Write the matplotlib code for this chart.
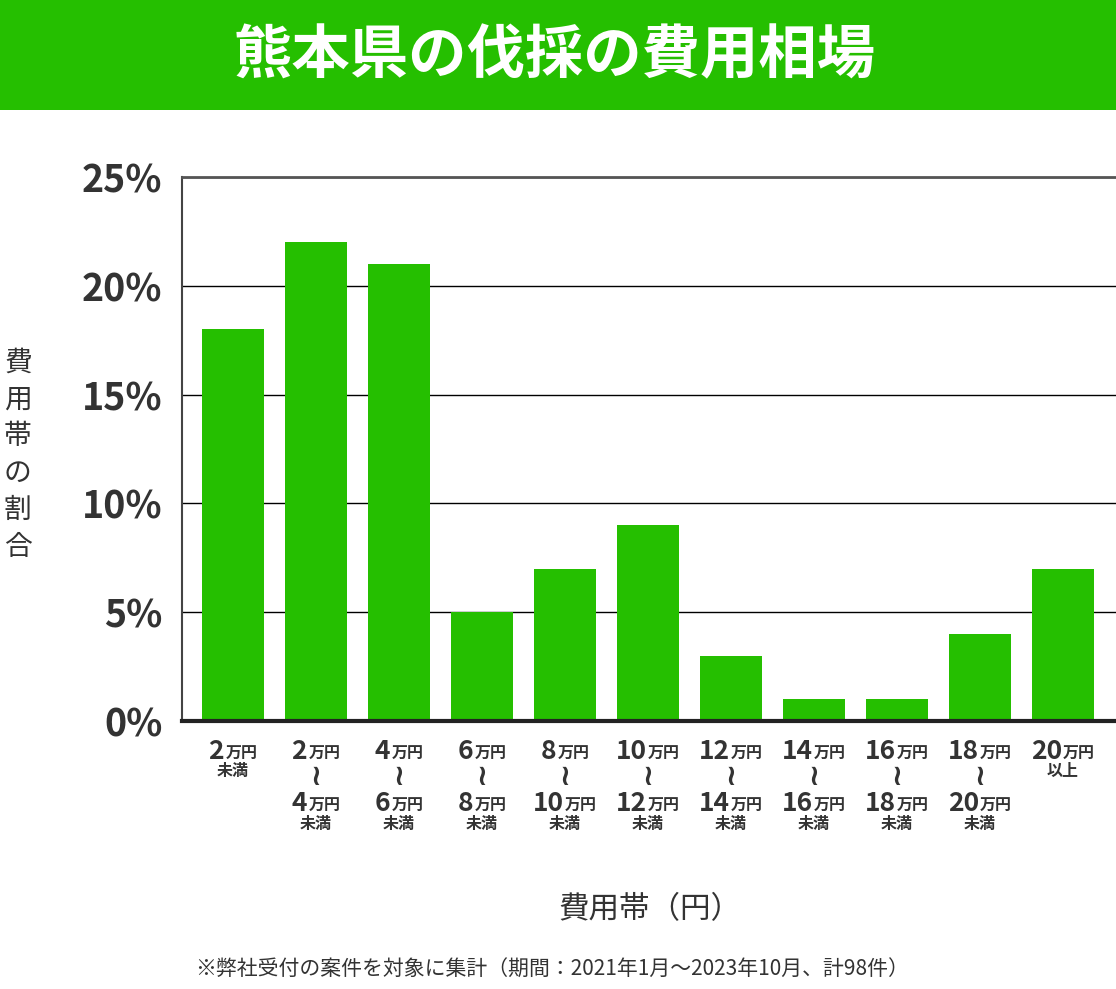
import matplotlib
matplotlib.use('Agg')
import matplotlib.pyplot as plt
from matplotlib.patches import Rectangle
from matplotlib.offsetbox import TextArea, HPacker, VPacker, AnnotationBbox

plt.rcParams['font.family'] = ['Noto Sans CJK JP', 'DejaVu Sans']

# データ
values = [18, 22, 21, 5, 7, 9, 3, 1, 1, 4, 7]
range_lo = ['2', '2', '4', '6', '8', '10', '12', '14', '16', '18', '20']
range_hi = [None, '4', '6', '8', '10', '12', '14', '16', '18', '20', None]
yticks = [0, 5, 10, 15, 20, 25]
title = '熊本県の伐採の費用相場'
note = '※弊社受付の案件を対象に集計（期間：2021年1月～2023年10月、計98件）'

green = '#25bf00'
txt = '#333333'

fig = plt.figure(figsize=(11.16, 9.89), dpi=100)
fig.patches.append(Rectangle((0, 1 - 110 / 989), 1, 110 / 989, transform=fig.transFigure,
                             facecolor=green, edgecolor='none', zorder=0))
fig.text(0.497, 0.943, title, color='white', fontsize=42, fontweight='bold',
         ha='center', va='center')

ax = fig.add_axes([182 / 1116, 1 - 721 / 989, 1 - 182 / 1116, (721 - 177) / 989])
x = list(range(len(values)))
ax.bar(x, values, width=0.75, color=green, zorder=2)
ax.set_xlim(-0.614, 10.64)
ax.set_ylim(0, 25)
ax.set_yticks(yticks)
ax.set_yticklabels([f'{v}%' for v in yticks], fontsize=27, fontweight='bold', color=txt)
ax.tick_params(axis='y', length=0, pad=14)
ax.set_xticks([])
ax.grid(axis='y', color='black', linewidth=1, zorder=1)
ax.spines['right'].set_visible(False)
ax.spines['top'].set_color('#555555')
ax.spines['top'].set_linewidth(2)
ax.spines['left'].set_color('#444444')
ax.spines['left'].set_linewidth(1.5)
ax.spines['bottom'].set_color('#222222')
ax.spines['bottom'].set_linewidth(3)
ax.set_axisbelow(True)


def price_row(num):
    a = TextArea(num, textprops=dict(fontsize=19, fontweight='bold', color=txt))
    b = TextArea('万円', textprops=dict(fontsize=11.5, fontweight='bold', color=txt))
    return HPacker(children=[a, b], align='baseline', pad=0, sep=1)


def small(s):
    return TextArea(s, textprops=dict(fontsize=11.5, fontweight='bold', color=txt))


for i in x:
    rows = [price_row(range_lo[i])]
    if range_hi[i] is None:
        rows.append(small('以上' if i == len(x) - 1 else '未満'))
    else:
        rows.append(TextArea('≀', textprops=dict(fontsize=21, fontweight='bold', color=txt,
                                                  family=['DejaVu Sans'])))
        rows.append(price_row(range_hi[i]))
        rows.append(small('未満'))
    box = VPacker(children=rows, align='center', pad=0, sep=-1)
    ab = AnnotationBbox(box, (i, 0), xybox=(0, -12), xycoords=ax.get_xaxis_transform(),
                        boxcoords='offset points', box_alignment=(0.5, 1), frameon=False)
    ax.add_artist(ab)

fig.text(0.016, 0.54, '\n'.join('費用帯の割合'), fontsize=20, color=txt,
         ha='center', va='center', linespacing=1.3)
fig.text(0.582, 0.080, '費用帯（円）', fontsize=22, color=txt, ha='center', va='center')
fig.text(0.495, 0.019, note, fontsize=15, color=txt, ha='center', va='center')

fig.savefig('out.png', dpi=100)
